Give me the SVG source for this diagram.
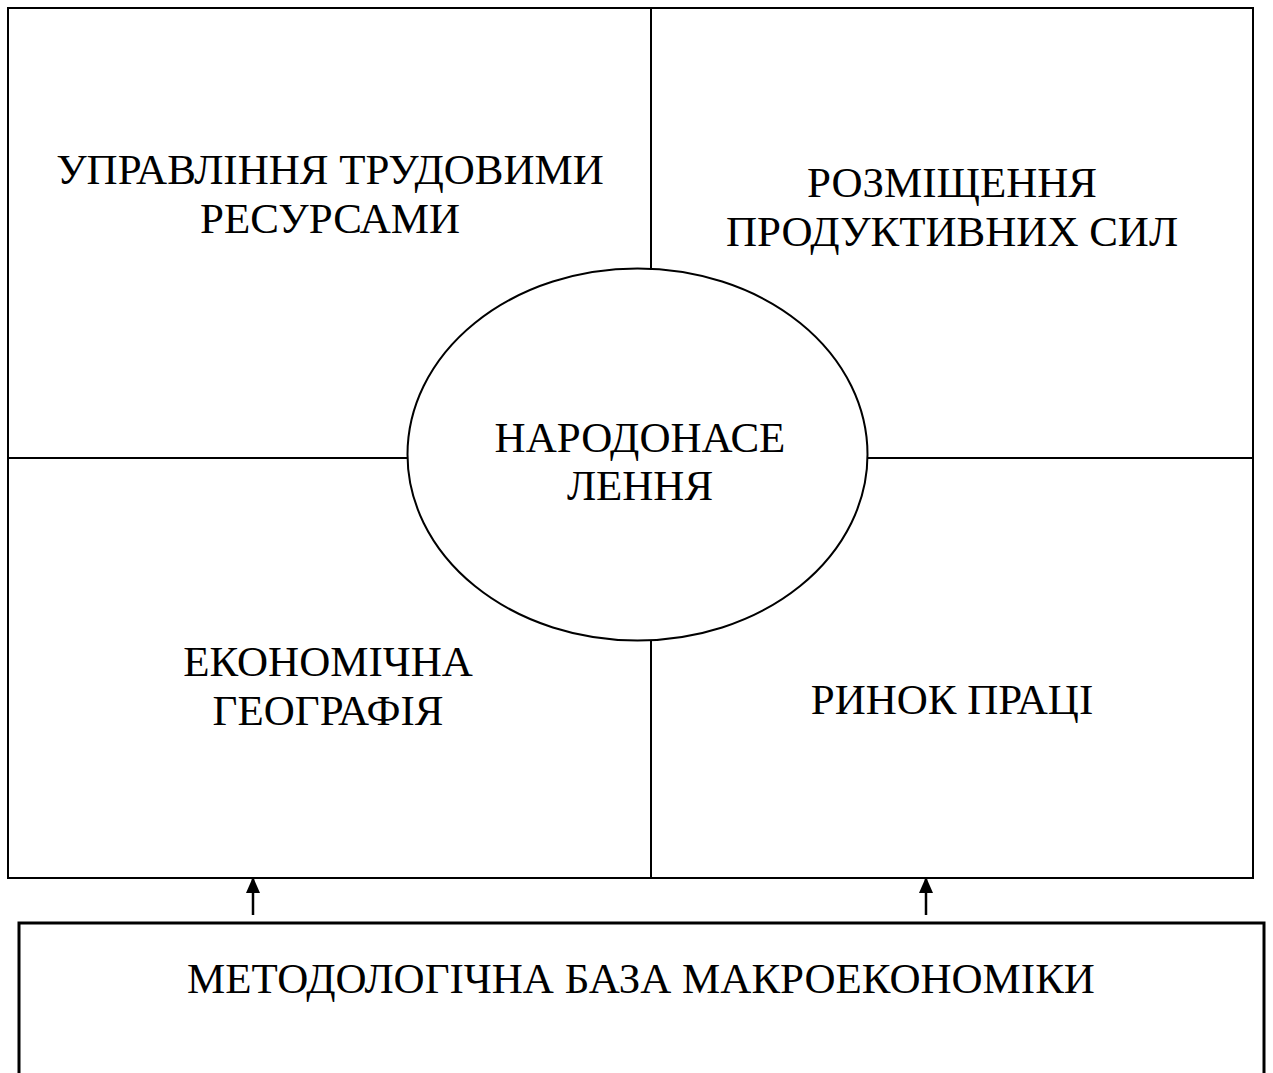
<svg xmlns="http://www.w3.org/2000/svg" width="1273" height="1073" viewBox="0 0 1273 1073">
<defs>
<style>
.ln{stroke:#000;stroke-width:2;fill:none}
.t{font-family:"Liberation Serif","Times New Roman",serif;font-size:43px;fill:#000;text-anchor:middle}
</style>
<marker id="ah" markerWidth="16" markerHeight="14" refX="15" refY="7" orient="auto" markerUnits="userSpaceOnUse" viewBox="0 0 16 14">
<path d="M0,0 L16,7 L0,14 Z" fill="#000"/>
</marker>
</defs>
<rect width="1273" height="1073" fill="#fff"/>
<g id="frame">
<rect class="ln" x="8" y="8" width="1245" height="870"/>
<line class="ln" x1="651" y1="8" x2="651" y2="270"/>
<line class="ln" x1="651" y1="640" x2="651" y2="878"/>
<line class="ln" x1="8" y1="458" x2="408" y2="458"/>
<line class="ln" x1="867" y1="458" x2="1253" y2="458"/>
</g>
<g id="n1"><text class="t" x="330" y="184">УПРАВЛІННЯ ТРУДОВИМИ</text><text class="t" x="330" y="233">РЕСУРСАМИ</text></g>
<g id="n2"><text class="t" x="952" y="197">РОЗМІЩЕННЯ</text><text class="t" x="952" y="246">ПРОДУКТИВНИХ СИЛ</text></g>
<g id="n3"><text class="t" x="328" y="676">ЕКОНОМІЧНА</text><text class="t" x="328" y="725">ГЕОГРАФІЯ</text></g>
<g id="n4"><text class="t" x="952" y="714">РИНОК ПРАЦІ</text></g>
<g id="center"><ellipse class="ln" cx="637.5" cy="454.5" rx="230" ry="186" fill="#fff"/><text class="t" x="640" y="452">НАРОДОНАСЕ</text><text class="t" x="640" y="500">ЛЕННЯ</text></g>
<g id="base"><rect x="19" y="923" width="1245" height="200" fill="none" stroke="#000" stroke-width="3"/><text class="t" x="641" y="993">МЕТОДОЛОГІЧНА БАЗА МАКРОЕКОНОМІКИ</text></g>
<g id="connectors">
<line x1="253" y1="915" x2="253" y2="878" stroke="#000" stroke-width="2.5" marker-end="url(#ah)"/>
<line x1="926" y1="915" x2="926" y2="878" stroke="#000" stroke-width="2.5" marker-end="url(#ah)"/>
</g>
</svg>
